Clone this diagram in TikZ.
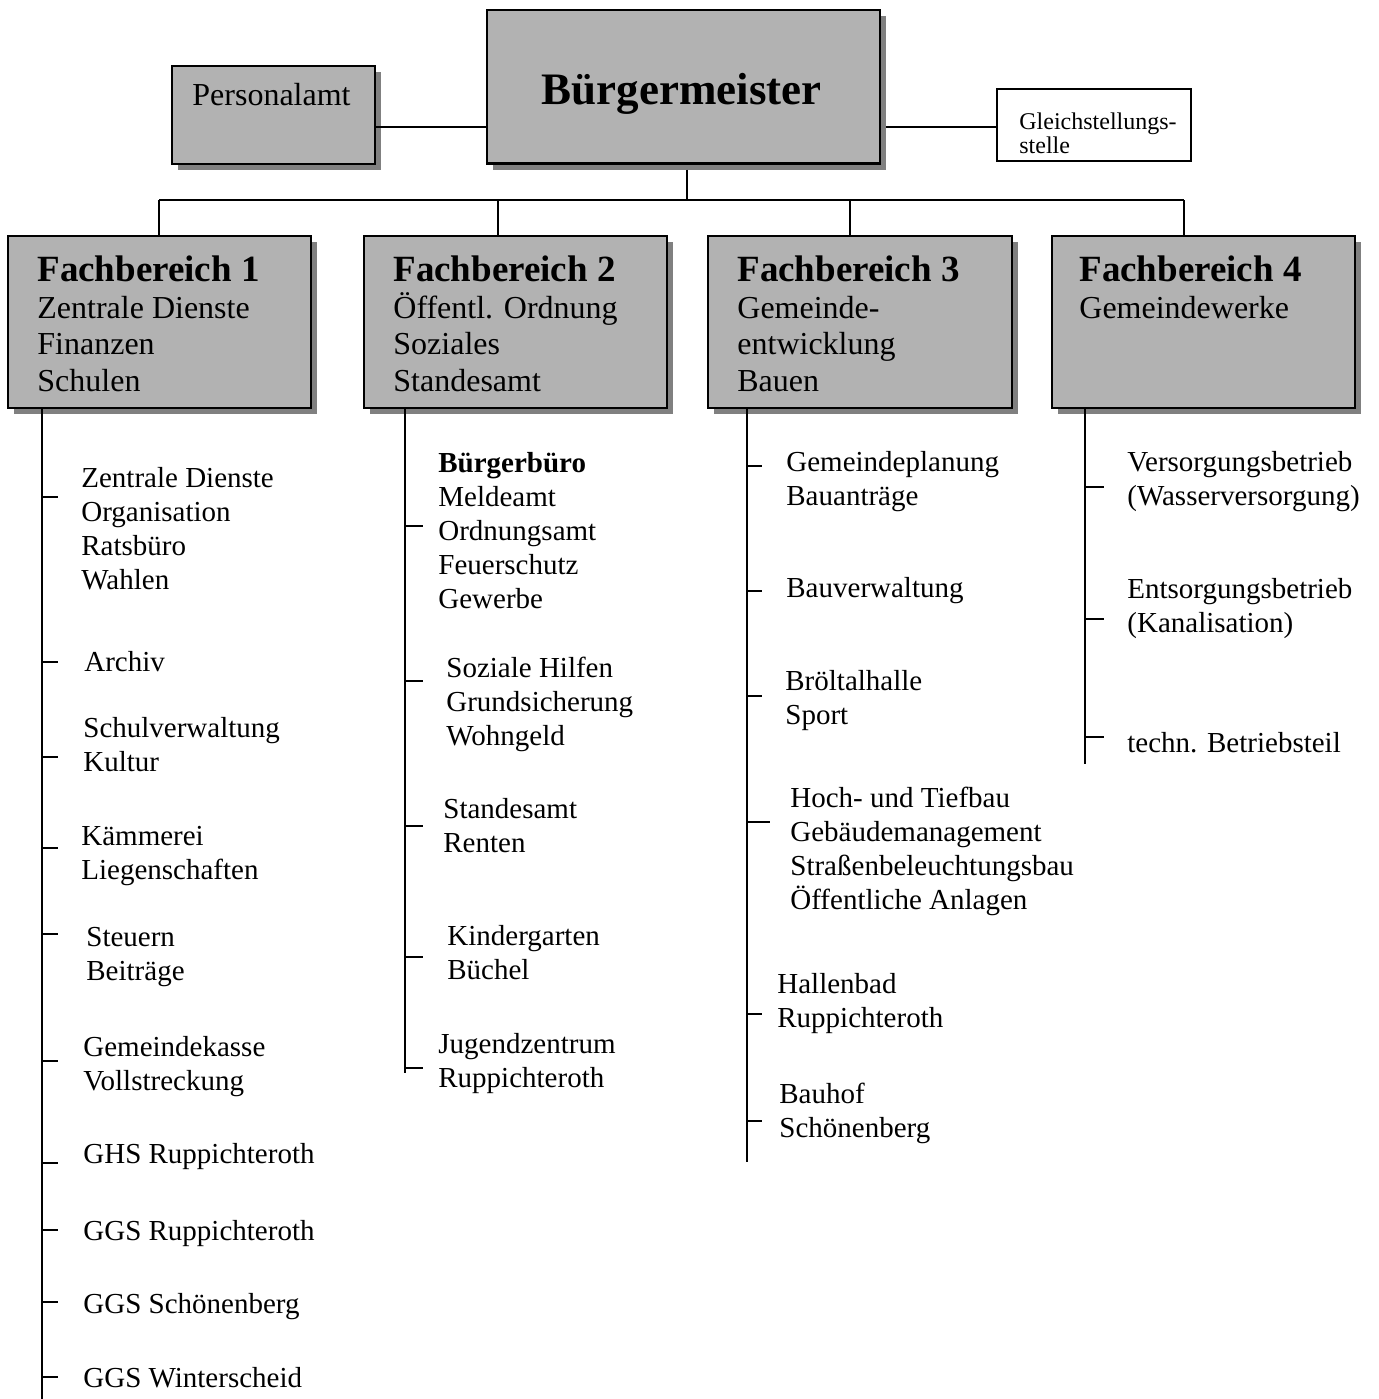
\documentclass[tikz,border=0pt]{standalone}
\usepackage{fontspec}
\setmainfont{Liberation Serif}
\usetikzlibrary{shadows}
\definecolor{boxgray}{HTML}{B2B2B2}
\definecolor{shadowgray}{HTML}{808080}
\newcommand{\itemlines}[1]{\begin{tabular}[t]{@{}l@{}}#1\end{tabular}}
\begin{document}
\begin{tikzpicture}[x=0.5pt,y=-0.5pt,
  graybox/.style={draw=black, line width=1.25pt, fill=boxgray, rectangle, inner sep=0pt, outer sep=0pt,
     drop shadow={shadow xshift=3pt, shadow yshift=-3pt, fill=shadowgray, opacity=1}},
  whitebox/.style={draw=black, line width=0.75pt, fill=white, rectangle, inner sep=0pt, outer sep=0pt},
  link/.style={line width=1pt},
  tick/.style={line width=0.8pt},
  listtxt/.style={anchor=base west, inner sep=0pt, font=\fontsize{14.5}{17}\selectfont},
  boxtxt/.style={anchor=base west, inner sep=0pt, font=\fontsize{16}{18.25}\selectfont},
  headtxt/.style={anchor=base west, inner sep=0pt, font=\fontsize{18.5}{22}\selectfont\bfseries}]
\useasboundingbox (0,0) rectangle (1378,1399);

% top boxes
\node[graybox, minimum width=101.5pt, minimum height=49pt] (pers) at (273.5,115) {};
\node[graybox, minimum width=196.5pt, minimum height=76.75pt] (bgm) at (683.5,86.75) {};
\node[whitebox, minimum width=97pt, minimum height=36pt] (gls) at (1094,125) {};

% department boxes
\node[graybox, minimum width=151.5pt, minimum height=86pt] (fb1) at (159.5,322) {};
\node[graybox, minimum width=151.5pt, minimum height=86pt] (fb2) at (515.5,322) {};
\node[graybox, minimum width=152pt, minimum height=86pt] (fb3) at (860,322) {};
\node[graybox, minimum width=151.5pt, minimum height=86pt] (fb4) at (1203.5,322) {};

% texts in top boxes
\node[anchor=base, inner sep=0pt, font=\fontsize{22.5}{27}\selectfont\bfseries] (bgmtxt) at (681.5,104) {Bürgermeister};
\node[anchor=base west, inner sep=0pt, font=\fontsize{16}{19}\selectfont] (perstxt) at (192,105) {Personalamt};
\node[anchor=base west, inner sep=0pt, font=\fontsize{12}{12}\selectfont] (glstxt) at (1019,129) {\itemlines{Gleichstellungs-\\stelle}};

% connectors top
\coordinate (sidelink) at (0,127);
\coordinate (trunk) at (687,200);
\coordinate (d1) at (159,200);
\coordinate (d2) at (498,200);
\coordinate (d3) at (850,200);
\coordinate (d4) at (1184,200);
\draw[link] (pers.east |- sidelink) -- (bgm.west |- sidelink);
\draw[link] ([xshift=3pt]bgm.east |- sidelink) -- (gls.west |- sidelink);
\draw[link] ([yshift=-3pt]bgm.south -| trunk) -- (trunk);
\draw[link] (d1) -- (d4);
\draw[link] (d1) -- (fb1.north -| d1);
\draw[link] (d2) -- (fb2.north -| d2);
\draw[link] (d3) -- (fb3.north -| d3);
\draw[link] (d4) -- (fb4.north -| d4);

% department box texts
\node[headtxt] (h1) at (37,281) {Fachbereich 1};
\node[boxtxt] (b1) at (37,318) {\itemlines{Zentrale Dienste\\Finanzen\\Schulen}};
\node[headtxt] (h2) at (393,281) {Fachbereich 2};
\node[boxtxt] (b2) at (393,318) {\itemlines{Öffentl. Ordnung\\Soziales\\Standesamt}};
\node[headtxt] (h3) at (737,281) {Fachbereich 3};
\node[boxtxt] (b3) at (737,318) {\itemlines{Gemeinde-\\entwicklung\\Bauen}};
\node[headtxt] (h4) at (1079,281) {Fachbereich 4};
\node[boxtxt] (b4) at (1079,318) {\itemlines{Gemeindewerke}};

% list lines
\coordinate (l1end) at (42,1399);
\coordinate (l2end) at (405,1073);
\coordinate (l3end) at (747,1162);
\coordinate (l4end) at (1085,764);
\draw[link] (fb1.south -| l1end) -- (l1end);
\draw[link] (fb2.south -| l2end) -- (l2end);
\draw[link] (fb3.south -| l3end) -- (l3end);
\draw[link] (fb4.south -| l4end) -- (l4end);
\foreach \y in {497,662,757,848,934,1061,1163,1230,1302,1377} \draw[tick] (42,\y) -- ++(16,0);
\foreach \y in {526,681,826,957,1068} \draw[tick] (405,\y) -- ++(18,0);
\foreach \y in {466,591,696,1014,1121} \draw[tick] (747,\y) -- ++(15,0);
\draw[tick] (747,822) -- ++(23,0);
\foreach \y in {487,619,737} \draw[tick] (1085,\y) -- ++(19,0);

% FB1 items
\node[listtxt] (a1) at (81,487) {\itemlines{Zentrale Dienste\\Organisation\\Ratsbüro\\Wahlen}};
\node[listtxt] (a2) at (84,671) {Archiv};
\node[listtxt] (a3) at (83,737) {\itemlines{Schulverwaltung\\Kultur}};
\node[listtxt] (a4) at (81,845) {\itemlines{Kämmerei\\Liegenschaften}};
\node[listtxt] (a5) at (86,946) {\itemlines{Steuern\\Beiträge}};
\node[listtxt] (a6) at (83,1056) {\itemlines{Gemeindekasse\\Vollstreckung}};
\node[listtxt] (a7) at (83,1163) {GHS Ruppichteroth};
\node[listtxt] (a8) at (83,1240) {GGS Ruppichteroth};
\node[listtxt] (a9) at (83,1313) {GGS Schönenberg};
\node[listtxt] (a10) at (83,1387) {GGS Winterscheid};

% FB2 items
\node[listtxt] (c1) at (438,472) {\itemlines{\textbf{Bürgerbüro}\\Meldeamt\\Ordnungsamt\\Feuerschutz\\Gewerbe}};
\node[listtxt] (c2) at (446,677) {\itemlines{Soziale Hilfen\\Grundsicherung\\Wohngeld}};
\node[listtxt] (c3) at (443,818) {\itemlines{Standesamt\\Renten}};
\node[listtxt] (c4) at (447,945) {\itemlines{Kindergarten\\Büchel}};
\node[listtxt] (c5) at (438,1053) {\itemlines{Jugendzentrum\\Ruppichteroth}};

% FB3 items
\node[listtxt] (e1) at (786,471) {\itemlines{Gemeindeplanung\\Bauanträge}};
\node[listtxt] (e2) at (786,597) {Bauverwaltung};
\node[listtxt] (e3) at (785,690) {\itemlines{Bröltalhalle\\Sport}};
\node[listtxt] (e4) at (790,807) {\itemlines{Hoch- und Tiefbau\\Gebäudemanagement\\Straßenbeleuchtungsbau\\Öffentliche Anlagen}};
\node[listtxt] (e5) at (777,993) {\itemlines{Hallenbad\\Ruppichteroth}};
\node[listtxt] (e6) at (779,1103) {\itemlines{Bauhof\\Schönenberg}};

% FB4 items
\node[listtxt] (g1) at (1127,471) {\itemlines{Versorgungsbetrieb\\(Wasserversorgung)}};
\node[listtxt] (g2) at (1127,598) {\itemlines{Entsorgungsbetrieb\\(Kanalisation)}};
\node[listtxt] (g3) at (1127,752) {techn. Betriebsteil};
\end{tikzpicture}
\end{document}
